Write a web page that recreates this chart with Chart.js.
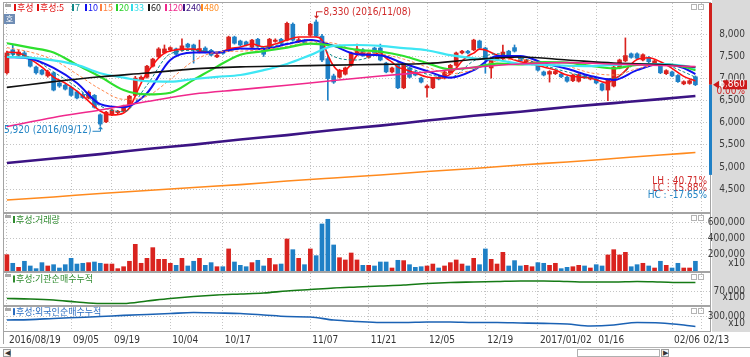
<!DOCTYPE html>
<html><head><meta charset="utf-8">
<script src="https://cdn.jsdelivr.net/npm/chart.js@4.4.1/dist/chart.umd.min.js"></script>
<style>
html,body{margin:0;padding:0;background:#fff;}
#wrap{position:relative;width:750px;height:357px;overflow:hidden;background:#fff;}
#wrap canvas{position:absolute;left:0;}
.bot{position:absolute;top:347px;left:0;width:750px;height:10px;background:#fff;border-top:1px solid #b4b4b4;box-sizing:border-box;}
.btn{position:absolute;top:1px;width:8px;height:8px;border:1px solid #9a9a9a;box-sizing:border-box;font:7px sans-serif;line-height:6px;text-align:center;color:#333;background:#f4f4f4;}
.sb{position:absolute;top:1px;left:577px;width:83px;height:8px;border:1px solid #b0b0b0;box-sizing:border-box;background:#fff;}
</style></head><body>
<div id="wrap">
<canvas id="c1" width="750" height="213" style="top:0"></canvas>
<canvas id="c2" width="750" height="59" style="top:213px"></canvas>
<canvas id="c3" width="750" height="34" style="top:272px"></canvas>
<canvas id="c4" width="750" height="41" style="top:306px"></canvas>
<div class="bot"><div class="btn" style="left:3px">◀</div><div class="sb"></div><div class="btn" style="left:661px">▶</div></div>
</div>
<script>
// ---------------- DATA ----------------
const DATES = ['2016/08/19','2016/08/22','2016/08/23','2016/08/24','2016/08/25','2016/08/26','2016/08/29','2016/08/30','2016/08/31',
'2016/09/01','2016/09/02','2016/09/05','2016/09/06','2016/09/07','2016/09/08','2016/09/09','2016/09/12','2016/09/13','2016/09/19','2016/09/20','2016/09/21','2016/09/22','2016/09/23','2016/09/26','2016/09/27','2016/09/28','2016/09/29','2016/09/30',
'2016/10/04','2016/10/05','2016/10/06','2016/10/07','2016/10/10','2016/10/11','2016/10/12','2016/10/13','2016/10/14','2016/10/17','2016/10/18','2016/10/19','2016/10/20','2016/10/21','2016/10/24','2016/10/25','2016/10/26','2016/10/27','2016/10/28','2016/10/31',
'2016/11/01','2016/11/02','2016/11/03','2016/11/04','2016/11/07','2016/11/08','2016/11/09','2016/11/10','2016/11/11','2016/11/14','2016/11/15','2016/11/16','2016/11/17','2016/11/18','2016/11/21','2016/11/22','2016/11/23','2016/11/24','2016/11/25','2016/11/28','2016/11/29','2016/11/30',
'2016/12/01','2016/12/02','2016/12/05','2016/12/06','2016/12/07','2016/12/08','2016/12/09','2016/12/12','2016/12/13','2016/12/14','2016/12/15','2016/12/16','2016/12/19','2016/12/20','2016/12/21','2016/12/22','2016/12/23','2016/12/26','2016/12/27','2016/12/28','2016/12/29',
'2017/01/02','2017/01/03','2017/01/04','2017/01/05','2017/01/06','2017/01/09','2017/01/10','2017/01/11','2017/01/12','2017/01/13','2017/01/16','2017/01/17','2017/01/18','2017/01/19','2017/01/20','2017/01/23','2017/01/24','2017/01/25','2017/01/26','2017/01/31',
'2017/02/01','2017/02/02','2017/02/03','2017/02/06','2017/02/07','2017/02/08','2017/02/09','2017/02/10','2017/02/13'];
const TICK_DATES = ['2016/08/19','2016/09/05','2016/09/19','2016/10/04','2016/10/17','2016/11/07','2016/11/21','2016/12/05','2016/12/19','2017/01/02','2017/01/16','2017/02/06','2017/02/13'];
const TICK_TEXT  = ['2016/08/19','09/05','09/19','10/04','10/17','11/07','11/21','12/05','12/19','2017/01/02','01/16','02/06','02/13'];
const PRICE_TICKS = [4500,5000,5500,6000,6500,7000,7500,8000];
const VOLUME_TICKS = [200000,400000,600000];
const INST_TICKS = [70000];
const FOREIGN_TICKS = [300000];

const OPEN = [7130,7650,7530,7580,7440,7260,7190,7060,7130,6900, 6850,6800,6700,6640,6560,6620,6180,6020,6180,6230, 6270,6380,6620,6970,7030,7280,7490,7580,7650,7670, 7640,7780,7760,7600,7690,7640,7490,7620,7640,7940, 7850,7830,7710,7890,7650,7700,7840,7890,7870,8230, 7830,7870,7980,8280,7960,7450,7060,7030,7100,7300, 7580,7650,7480,7690,7690,7350,7150,7300,6790,7240, 7150,7010,6790,6790,7030,7010,7120,7300,7580,7620, 7650,7850,7690,7240,7420,7450,7620,7700,7460,7380, 7330,7310,7150,7100,7110,7100,7030,6950,6940,7060, 6990,6990,6880,6740,6830,7240,7400,7560,7560,7420, 7480,7330,7280,7110,7150,7070,6880,6890,7040];
const HIGH = [7620,7760,7650,7620,7490,7280,7210,7190,7150,6930, 6880,6830,6720,6680,6720,6640,6200,6260,6310,6280, 6400,6620,7050,7060,7300,7460,7700,7760,7720,7690, 7900,7800,7780,7870,7720,7660,7560,7640,7960,7960, 7870,7850,7890,7910,7700,7910,7900,7910,8280,8260, 7920,7890,8250,8330,8000,7500,7100,7210,7260,7600, 7780,7680,7600,7710,7780,7370,7260,7320,7320,7260, 7170,7030,6860,7030,7050,7170,7320,7600,7640,7640, 7890,7870,7710,7440,7510,7760,7640,7760,7480,7440, 7390,7330,7170,7180,7180,7120,7050,7100,7110,7080, 7050,7010,6900,7000,7280,7440,7920,7580,7580,7560, 7500,7420,7300,7200,7170,7090,6950,6970,7060];
const LOW = [7100,7490,7510,7490,7260,7100,7080,7030,6720,6800, 6740,6600,6540,6550,6540,6330,5920,6000,6160,6200, 6250,6360,6600,6940,7010,7260,7470,7560,7620,7530, 7620,7690,7350,7580,7580,7510,7470,7550,7620,7780, 7740,7740,7690,7710,7500,7680,7820,7780,7850,7850, 7810,7790,7960,7940,7380,6510,6890,7010,7080,7280, 7560,7500,7460,7560,7400,7130,7130,6770,6770,7010, 7060,6900,6580,6770,6970,6990,7100,7280,7560,7560, 7630,7670,7120,7010,7400,7430,7520,7600,7380,7360, 7310,7170,7060,6920,7090,7020,6920,6930,6920,7000, 6970,6880,6720,6500,6810,7220,7380,7460,7440,7400, 7360,7310,7110,7090,7040,6910,6860,6870,6840];
const CLOSE = [7580,7550,7600,7510,7280,7130,7100,7150,6740,6830, 6760,6620,6560,6570,6690,6350,5970,6240,6290,6260, 6380,6600,7010,7030,7280,7440,7670,7670,7700,7550, 7740,7710,7650,7680,7600,7530,7530,7570,7940,7800, 7760,7760,7870,7730,7550,7890,7870,7800,8250,7870, 7880,7810,8230,7960,7420,7000,6920,7190,7240,7580, 7670,7520,7580,7580,7420,7150,7240,6790,7300,7030, 7080,6920,6830,7010,6990,7150,7300,7580,7620,7580, 7870,7690,7460,7420,7490,7600,7540,7620,7400,7420, 7370,7190,7080,7160,7160,7040,6940,7080,7090,7020, 7030,6900,6740,6980,7260,7420,7520,7480,7460,7540, 7380,7400,7130,7180,7060,6930,6930,6950,6860];
const VOLUME = [201000,95000,45000,120000,62000,29000,103000,62000,78000,37000, 78000,156000,86000,95000,103000,111000,95000,86000,86000,29000, 53000,120000,329000,95000,156000,288000,144000,144000,95000,70000, 156000,62000,120000,156000,70000,103000,53000,53000,272000,111000, 70000,53000,103000,132000,62000,156000,78000,86000,395000,263000, 156000,78000,272000,189000,580000,638000,321000,164000,136000,222000, 136000,70000,70000,62000,111000,111000,37000,132000,128000,78000, 45000,53000,62000,86000,37000,62000,103000,136000,86000,62000, 156000,78000,272000,144000,86000,230000,62000,128000,62000,70000, 53000,103000,95000,70000,95000,29000,45000,53000,70000,62000, 37000,78000,62000,198000,263000,198000,230000,53000,78000,95000, 62000,37000,120000,70000,37000,95000,37000,37000,120000];

// moving averages at these candle indices
const IDX4 = [0,4,8,12,16,20,24,28,32,36,40,44,48,52,56,60,64,68,72,76,80,84,88,92,96,100,104,108,112,116,118];
const IDX8 = [0,8,16,24,32,40,48,56,64,72,80,88,96,104,112,118];
const MA5_IDX = [0,2,4,6,8,10,12,14,16,18,20,21,22,23,24,25,26,27,28,30,32,34,36,38,40,42,44,46,48,50,52,53,54,55,56,57,58,59,60,61,62,63,64,65,66,67,68,69,70,72,74,76,77,78,79,80,81,82,84,86,88,90,92,94,96,98,100,102,103,104,105,106,107,108,110,112,114,116,118];
const MA5 = [7600,7577,7441,7260,7034,6898,6717,6491,6265,6175,6220,6333,6604,6898,7125,7306,7464,7577,7622,7667,7667,7600,7577,7667,7713,7781,7720,7781,7871,7939,7939,7939,7871,7532,7283,7170,7192,7328,7532,7577,7509,7554,7577,7464,7373,7260,7215,7170,7125,7034,7011,7102,7238,7396,7509,7577,7667,7645,7532,7464,7380,7328,7260,7192,7079,7034,7011,6928,6900,6990,7060,7180,7330,7430,7470,7380,7230,7050,6945];
const MA7 = [7560,7480,7150,6800,6380,6250,6850,7560,7640,7600,7670,7700,7800,7880,7500,7420,7540,7300,7100,7030,7400,7560,7470,7300,7150,7020,7000,7330,7330,7150,7030];
const MA10 = [7490,7450,7240,6900,6420,6350,6670,7420,7590,7590,7680,7670,7780,7870,7740,7550,7530,7340,7170,7020,7190,7510,7510,7350,7220,7060,6970,7190,7330,7240,7100];
const MA15 = [7700,7600,7420,7100,6760,6530,6600,6980,7400,7600,7620,7660,7730,7830,7800,7620,7560,7440,7260,7110,7200,7400,7430,7340,7280,7130,7080,7220,7310,7260,7180];
const MA20 = [7800,7700,7590,7310,7040,6740,6640,6680,6970,7270,7540,7620,7700,7790,7740,7650,7610,7510,7350,7210,7250,7340,7320,7370,7360,7290,7230,7310,7320,7270,7190];
const MA33 = [7490,7470,7410,7310,7120,7020,6940,6930,6990,7040,7080,7190,7330,7530,7740,7760,7740,7690,7640,7530,7460,7420,7330,7310,7290,7280,7310,7330,7330,7290,7240];
const MA60 = [6800,6930,7040,7125,7220,7265,7283,7305,7320,7340,7430,7487,7420,7350,7317,7260];
const MA120 = [5915,6120,6290,6480,6650,6750,6850,6955,7057,7147,7253,7328,7360,7330,7295,7270];
const MA240 = [5090,5190,5290,5405,5505,5620,5720,5835,5935,6050,6160,6250,6355,6445,6535,6605];
const MA480 = [4250,4320,4400,4465,4535,4600,4680,4750,4817,4897,4965,5045,5112,5190,5270,5325];
const INST = [66250,66000,65500,64500,63750,63750,65000,66250,67250,68000,68500,69000,70000,70750,71500,72000,72500,73000,73750,74250,74500,74750,75000,75000,74750,74500,74500,74750,74500,74250,74250];
const FOREIGN = [279000,282000,289000,295000,301000,308000,314000,320000,326000,323000,320000,311000,301000,298000,279000,270000,264000,264000,267000,267000,264000,264000,261000,258000,254000,242000,248000,264000,261000,248000,239000];
const POS_BAR_LOW = 4820;

// ---------------- STYLE / HELPERS ----------------
const XLABELS = DATES.concat(['']);
const TICK_IDX = TICK_DATES.map(d => DATES.indexOf(d));
const UP = '#d9231f', DOWN = '#1f80c6', GRID = '#c4c4c4';
const NUM_FONT = "10px 'Liberation Sans Narrow','DejaVu Sans Condensed',sans-serif";
const KR_FONT = "9px 'Noto Sans CJK KR',sans-serif";
const candleColor = CLOSE.map((c, i) => c >= OPEN[i] ? UP : DOWN);
function sparse(idx, vals) { const a = new Array(CLOSE.length).fill(null); idx.forEach((k, j) => a[k] = vals[j]); return a; }
function fmt(v) { return Math.round(v).toLocaleString('en-US'); }

function xScale(showLabels) {
  return {
    type: 'category', offset: true,
    grid: { offset: false, drawTicks: false, lineWidth: 1, color: c => TICK_IDX.includes(c.index) ? GRID : 'rgba(0,0,0,0)' },
    border: { display: false, dash: [1, 2] },
    ticks: { display: showLabels, autoSkip: false, maxRotation: 0, minRotation: 0, align: 'start', labelOffset: 2, padding: 3,
      color: '#333', font: { family: "'Liberation Sans Narrow','DejaVu Sans Condensed',sans-serif", size: 10 },
      callback: (v, i) => { const k = TICK_IDX.indexOf(i); return k < 0 ? '' : TICK_TEXT[k]; } },
    afterFit: s => { s.height = showLabels ? 16 : 0; }
  };
}
function yScale(min, max, ticks) {
  return {
    position: 'right', min, max,
    grid: { drawTicks: false, color: GRID, lineWidth: 1 },
    border: { display: false, dash: [1, 2] },
    ticks: { display: false },
    afterBuildTicks: s => { s.ticks = ticks.map(v => ({ value: v })); },
    afterFit: s => { s.width = 40; }
  };
}

const panel = {
  id: 'panel',
  beforeDraw(chart, _a, o) {
    const { ctx, chartArea: a, width, height } = chart;
    ctx.save();
    ctx.fillStyle = '#ffffff'; ctx.fillRect(0, 0, width, height);
    ctx.fillStyle = '#dadada'; ctx.fillRect(a.right + 2, 0, width - a.right - 2, o.grayBottom ? a.bottom + 1 : height);
    ctx.restore();
  },
  afterDraw(chart, _a, o) {
    const { ctx, chartArea: a, height } = chart;
    const ys = chart.scales.y;
    ctx.save();
    ctx.strokeStyle = '#a4a4a4'; ctx.lineWidth = 1;
    ctx.strokeRect(a.left - 0.5, a.top - 0.5, a.right - a.left + 1, a.bottom - a.top + 1);
    if (o.grayBottom) {
      ctx.beginPath(); ctx.moveTo(a.left - 0.5, a.bottom); ctx.lineTo(a.left - 0.5, height - 3); ctx.stroke();
    }
    ctx.font = NUM_FONT; ctx.fillStyle = '#3a3a3a'; ctx.textAlign = 'right'; ctx.textBaseline = 'middle';
    ys.ticks.forEach(t => ctx.fillText(fmt(t.value), 745, ys.getPixelForValue(t.value)));
    if (o.unit) ctx.fillText(o.unit, 745, a.bottom - 8);
    ctx.fillStyle = '#a8a8a8'; ctx.fillRect(a.left + 1, a.top + 1, 6, 3);
    ctx.strokeStyle = '#b4b4b4';
    ctx.strokeRect(a.right - 18.5, a.top + 1.5, 5, 5);
    ctx.strokeRect(a.right - 11.5, a.top + 1.5, 5, 5);
    if (o.legend) {
      ctx.font = KR_FONT; ctx.textAlign = 'left'; ctx.textBaseline = 'middle';
      o.legend.forEach(it => {
        ctx.fillStyle = it.color;
        ctx.fillRect(it.x, a.top + o.legendY - 3.5, 2, 7);
        ctx.fillText(it.text, it.x + 3, a.top + o.legendY);
      });
    }
    ctx.restore();
  }
};

const mainExtras = {
  id: 'mainExtras',
  afterDraw(chart) {
    const { ctx, chartArea: a } = chart;
    const xs = chart.scales.x, ys = chart.scales.y;
    ctx.save();
    ctx.fillStyle = '#6f8db5'; ctx.fillRect(a.left, a.top + 11, 11, 10);
    ctx.fillStyle = '#fff'; ctx.font = "8px 'Noto Sans CJK KR',sans-serif"; ctx.textAlign = 'center'; ctx.textBaseline = 'middle';
    ctx.fillText('호', a.left + 5.5, a.top + 16);
    let hi = 0, lo = 0;
    HIGH.forEach((v, i) => { if (v > HIGH[hi]) hi = i; });
    LOW.forEach((v, i) => { if (v < LOW[lo]) lo = i; });
    ctx.font = NUM_FONT; ctx.textBaseline = 'middle'; ctx.lineWidth = 1;
    let x = Math.round(xs.getPixelForValue(hi)) + 0.5, y = ys.getPixelForValue(HIGH[hi]);
    ctx.strokeStyle = ctx.fillStyle = '#d02a2a';
    ctx.beginPath(); ctx.moveTo(x, y - 3); ctx.lineTo(x, y - 8); ctx.lineTo(x + 6, y - 8); ctx.stroke();
    ctx.beginPath(); ctx.moveTo(x - 2.5, y - 4); ctx.lineTo(x + 2.5, y - 4); ctx.lineTo(x, y - 1); ctx.closePath(); ctx.fill();
    ctx.textAlign = 'left'; ctx.fillText(fmt(HIGH[hi]) + ' (' + DATES[hi] + ')', x + 7, y - 7.5);
    x = Math.round(xs.getPixelForValue(lo)) + 0.5; y = ys.getPixelForValue(LOW[lo]);
    ctx.strokeStyle = ctx.fillStyle = '#2384c4';
    ctx.beginPath(); ctx.moveTo(x - 8, y + 5); ctx.lineTo(x, y + 5); ctx.lineTo(x, y + 2); ctx.stroke();
    ctx.beginPath(); ctx.moveTo(x - 2.5, y + 3); ctx.lineTo(x + 2.5, y + 3); ctx.lineTo(x, y); ctx.closePath(); ctx.fill();
    ctx.textAlign = 'right'; ctx.fillText(fmt(LOW[lo]) + ' (' + DATES[lo] + ')', x - 9, y + 4.5);
    const last = CLOSE[CLOSE.length - 1];
    const pct = v => (v * 100).toFixed(2) + '%';
    ctx.textAlign = 'right';
    const rows = [['LH : ' + pct(HIGH[hi] / LOW[lo] - 1), '#d02a2a'], ['LC : ' + pct(last / LOW[lo] - 1), '#d02a2a'], ['HC : ' + pct(last / HIGH[hi] - 1), '#2384c4']];
    rows.forEach((r, i) => { ctx.fillStyle = r[1]; ctx.fillText(r[0], a.right - 3, a.top + 178 + i * 7); });
    const yl = ys.getPixelForValue(last);
    ctx.fillStyle = '#d0201c'; ctx.fillRect(a.right - 1, a.top, 3, yl - a.top);
    ctx.fillStyle = '#1f80c6'; ctx.fillRect(a.right - 1, yl, 3, ys.getPixelForValue(POS_BAR_LOW) - yl);
    ctx.fillStyle = '#cc1818';
    ctx.beginPath(); ctx.moveTo(a.right + 3, yl); ctx.lineTo(a.right + 9, yl - 4); ctx.lineTo(a.right + 9, yl + 4); ctx.closePath(); ctx.fill();
    ctx.fillRect(723, yl - 4.5, 24, 9);
    ctx.fillStyle = '#fff'; ctx.textAlign = 'right'; ctx.fillText(fmt(last), 745, yl);
    ctx.fillStyle = '#d02020'; ctx.fillText('0.00%', 745, yl + 7);
    ctx.restore();
  }
};

function maLine(label, data, color, width, dash) {
  return { type: 'line', label, data, borderColor: color, borderWidth: width, borderDash: dash || [], pointRadius: 0,
    spanGaps: true, cubicInterpolationMode: 'monotone', fill: false, order: 0 };
}

const common = { responsive: false, maintainAspectRatio: false, animation: false, events: [],
  plugins: { legend: { display: false }, tooltip: { enabled: false } } };

new Chart(document.getElementById('c1'), {
  type: 'bar',
  data: {
    labels: XLABELS,
    datasets: [
      maLine('480', sparse(IDX8, MA480), '#ff8a1e', 1.6),
      maLine('240', sparse(IDX8, MA240), '#3c1484', 2.6),
      maLine('120', sparse(IDX8, MA120), '#f0288c', 1.6),
      maLine('60', sparse(IDX8, MA60), '#111111', 1.6),
      maLine('33', sparse(IDX4, MA33), '#3ee6f4', 2.2),
      maLine('20', sparse(IDX4, MA20), '#2ee02e', 2.2),
      maLine('15', sparse(IDX4, MA15), '#ff8a50', 1, [3, 2]),
      maLine('10', sparse(IDX4, MA10), '#1010f0', 2),
      maLine('7', sparse(IDX4, MA7), '#108888', 1, [3, 2]),
      maLine('5', sparse(MA5_IDX, MA5), '#ff1010', 1.6),
      { type: 'bar', label: 'wick', data: LOW.map((l, i) => [l, HIGH[i]]), backgroundColor: candleColor, barThickness: 1, grouped: false, order: 2 },
      { type: 'bar', label: 'body', data: OPEN.map((o, i) => [o, CLOSE[i]]), backgroundColor: candleColor, barThickness: 4, grouped: false, minBarLength: 1, order: 1 }
    ]
  },
  options: Object.assign({}, common, {
    layout: { padding: { left: 4, top: 3, right: 0, bottom: 1 } },
    scales: { x: xScale(false), y: yScale(3980, 8710, PRICE_TICKS) },
    plugins: Object.assign({}, common.plugins, {
      panel: { legendY: 4.5, legend: [
        { text: '후성', color: '#e01010', x: 14 }, { text: '후성:5', color: '#e01010', x: 37 },
        { text: '7', color: '#108888', x: 72 }, { text: '10', color: '#1010f0', x: 85 },
        { text: '15', color: '#ff8040', x: 100 }, { text: '20', color: '#28d028', x: 116 },
        { text: '33', color: '#30dce8', x: 131 }, { text: '60', color: '#111', x: 148 },
        { text: '120', color: '#f0288c', x: 165 }, { text: '240', color: '#3c1484', x: 183 },
        { text: '480', color: '#ff8a1e', x: 201 } ] }
    })
  }),
  plugins: [panel, mainExtras]
});

new Chart(document.getElementById('c2'), {
  type: 'bar',
  data: { labels: XLABELS, datasets: [ { label: '거래량', data: VOLUME, backgroundColor: candleColor, barThickness: 4 } ] },
  options: Object.assign({}, common, {
    layout: { padding: { left: 4, top: 1, right: 0, bottom: 1 } },
    scales: { x: xScale(false), y: yScale(0, 703000, VOLUME_TICKS) },
    plugins: Object.assign({}, common.plugins, {
      panel: { unit: 'x10', legendY: 5.5, legend: [ { text: '후성:거래량', color: '#2e8b2e', x: 13 } ] }
    })
  }),
  plugins: [panel]
});

new Chart(document.getElementById('c3'), {
  type: 'line',
  data: { labels: XLABELS, datasets: [ { label: '기관순매수누적', data: sparse(IDX4, INST), borderColor: '#157a15', borderWidth: 1.6, pointRadius: 0, spanGaps: true, cubicInterpolationMode: 'monotone' } ] },
  options: Object.assign({}, common, {
    layout: { padding: { left: 4, top: 1, right: 0, bottom: 1 } },
    scales: { x: xScale(false), y: yScale(63000, 79000, INST_TICKS) },
    plugins: Object.assign({}, common.plugins, {
      panel: { unit: 'x100', legendY: 6, legend: [ { text: '후성:기관순매수누적', color: '#2e8b2e', x: 13 } ] }
    })
  }),
  plugins: [panel]
});

new Chart(document.getElementById('c4'), {
  type: 'line',
  data: { labels: XLABELS, datasets: [ { label: '외국인순매수누적', data: sparse(IDX4, FOREIGN), borderColor: '#1b62b4', borderWidth: 1.6, pointRadius: 0, spanGaps: true, cubicInterpolationMode: 'monotone' } ] },
  options: Object.assign({}, common, {
    layout: { padding: { left: 4, top: 1, right: 0, bottom: 0 } },
    scales: { x: xScale(true), y: yScale(210600, 360600, FOREIGN_TICKS) },
    plugins: Object.assign({}, common.plugins, {
      panel: { unit: 'x10', grayBottom: true, legendY: 4.7, legend: [ { text: '후성:외국인순매수누적', color: '#2a6cc0', x: 13 } ] }
    })
  }),
  plugins: [panel]
});
</script>
</body></html>
